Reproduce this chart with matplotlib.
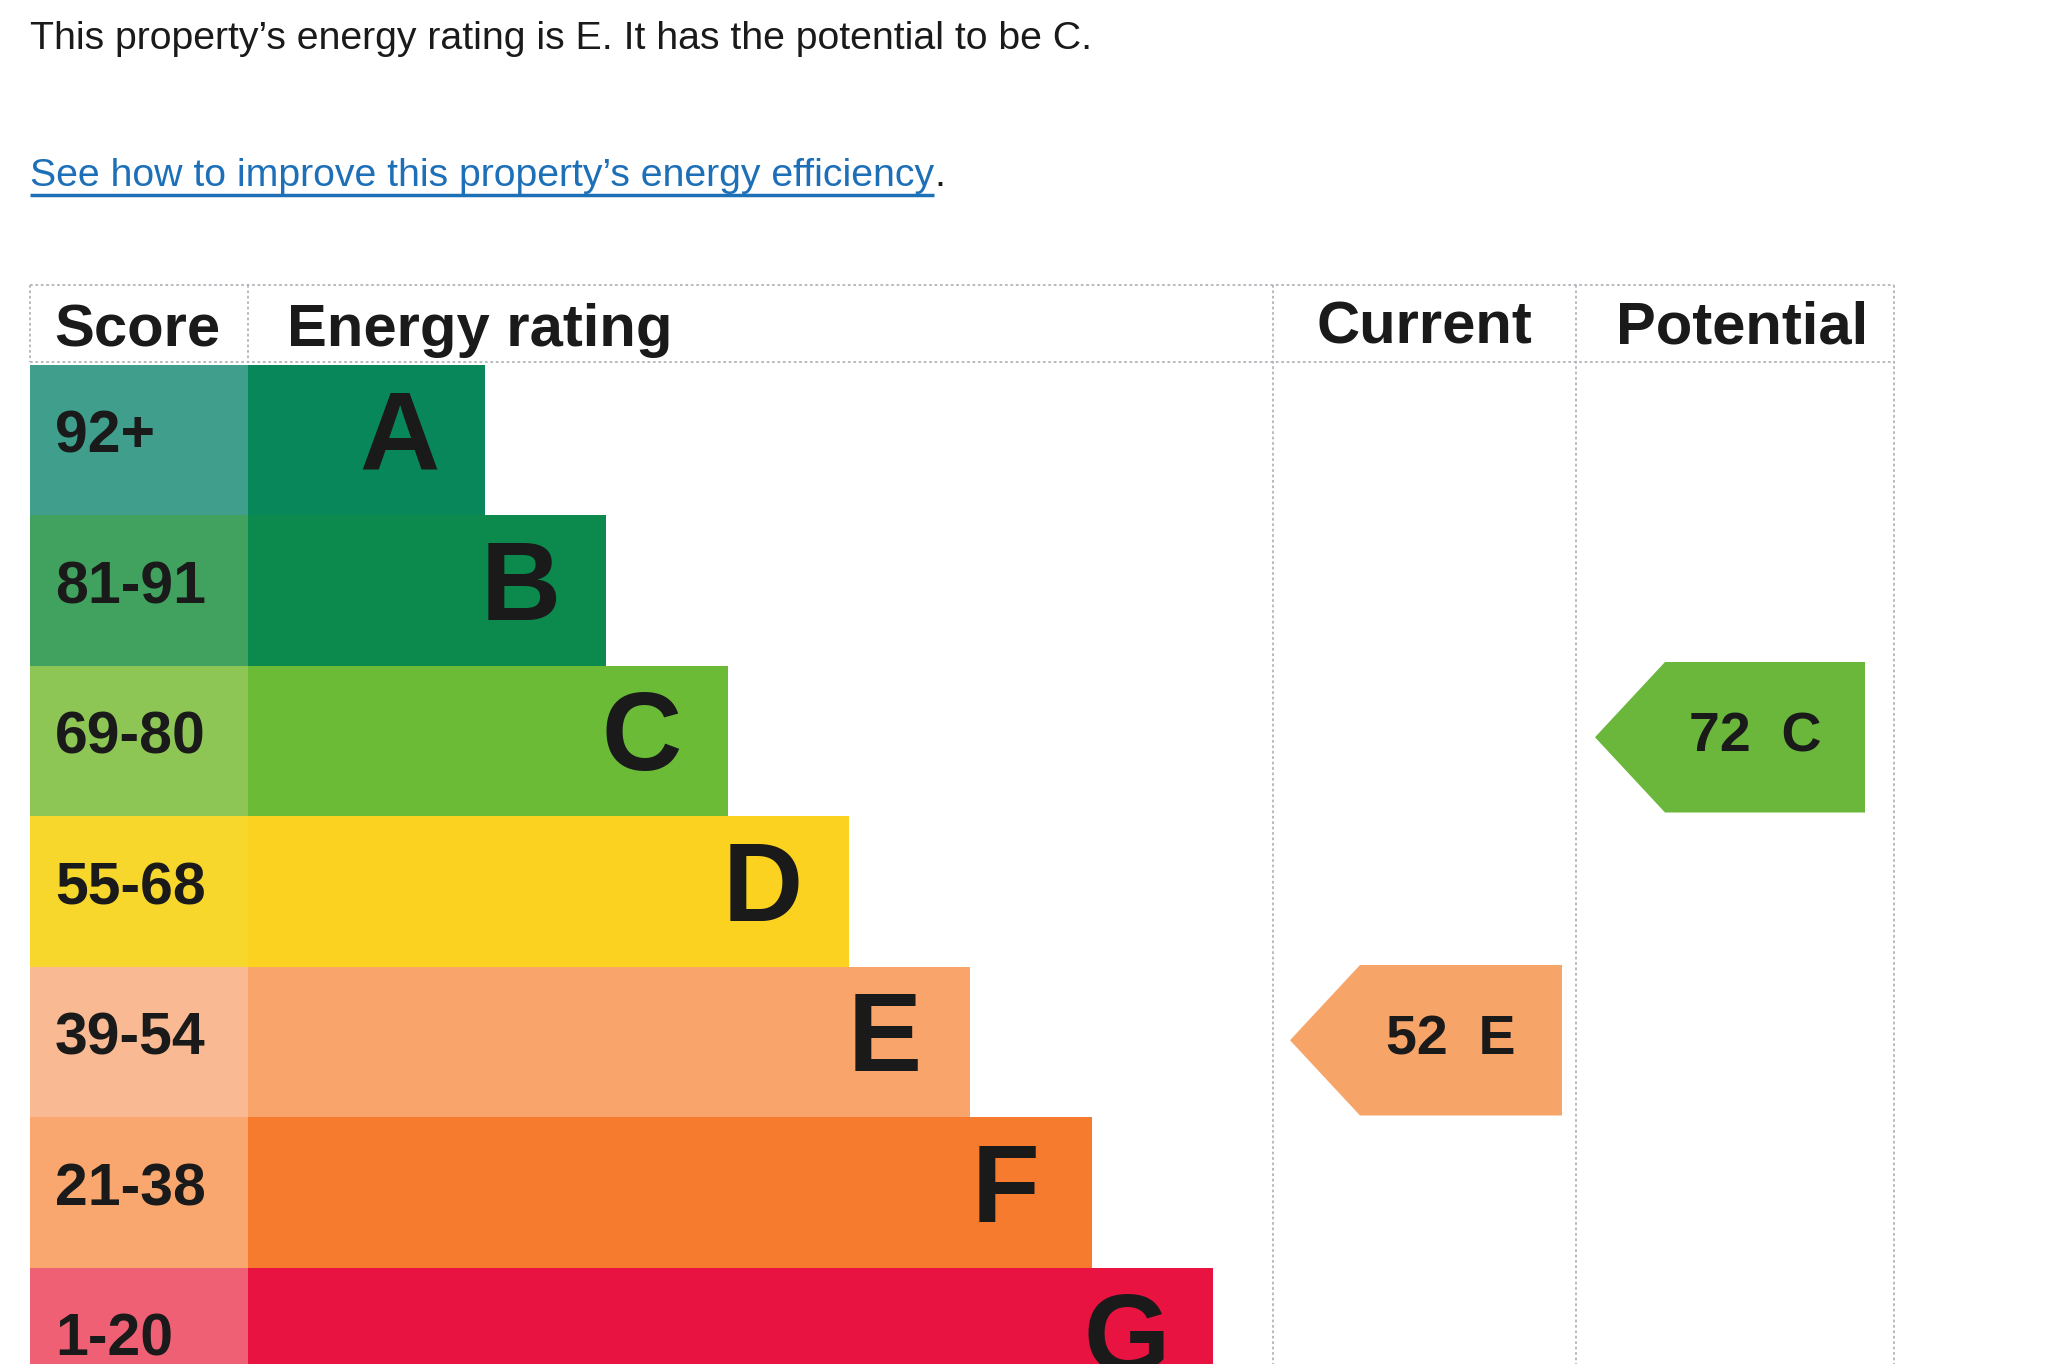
import matplotlib
matplotlib.use("Agg")
import matplotlib.pyplot as plt
from matplotlib.patches import Polygon

# ---- data ----
bands = ["A", "B", "C", "D", "E", "F", "G"]
score_ranges = ["92+", "81-91", "69-80", "55-68", "39-54", "21-38", "1-20"]
band_lower = [92, 81, 69, 55, 39, 21, 1]
current_score = 52
potential_score = 72
headers = ["Score", "Energy rating", "Current", "Potential"]
summary_text = "This property\u2019s energy rating is E. It has the potential to be C."
link_text = "See how to improve this property\u2019s energy efficiency"

# ---- styles ----
score_colors = ["#3f9f8c", "#40a25e", "#8dc655", "#f7d72c", "#f9b993", "#f9a76f", "#ef6075"]
bar_colors = ["#07875a", "#0c894c", "#6bbb37", "#fbd21f", "#f9a46b", "#f77b2e", "#e81341"]

W, H = 2048, 1364
fig = plt.figure(figsize=(W / 100, H / 100), dpi=100)
ax = fig.add_axes([0, 0, 1, 1])
ax.set_xlim(0, W)
ax.set_ylim(H, 0)
ax.axis("off")
fig.patch.set_facecolor("white")

FONT = "Liberation Sans"
TXT = "#1a1a1a"

# layout
x0, x_score = 30, 248
col_cur, col_pot, col_end = 1273, 1576, 1894
y_top, y_head = 285, 362
row_top0, row_h = 365, 150.5
bar_base, bar_step = 237, 121.3

def band_index(score):
    for i, lo in enumerate(band_lower):
        if score >= lo:
            return i
    return len(band_lower) - 1

# rows
for i, (b, sr) in enumerate(zip(bands, score_ranges)):
    top = row_top0 + i * row_h
    yc = top + row_h / 2
    ax.barh(yc, x_score - x0, left=x0, height=row_h + 0.5, color=score_colors[i], linewidth=0)
    length = bar_base + bar_step * i
    ax.barh(yc, length, left=x_score, height=row_h + 0.5, color=bar_colors[i], linewidth=0)
    ax.text(55, yc - 3, sr, fontsize=42.5, fontweight="bold", family=FONT, color=TXT,
            ha="left", va="center")
    ax.text(x_score + length - 86, yc, b, fontsize=80, fontweight="bold", family=FONT,
            color=TXT, ha="center", va="center")

# grid lines (dotted light gray)
lc = "#b4b4bc"
ls = (0, (1.5, 1.5))
ax.plot([x0, col_end], [y_top, y_top], color=lc, lw=1.3, ls=ls)
ax.plot([x0, col_end], [y_head, y_head], color=lc, lw=1.3, ls=ls)
ax.plot([x0, x0], [y_top, y_head], color=lc, lw=1.3, ls=ls)
ax.plot([x_score, x_score], [y_top, y_head], color=lc, lw=1.3, ls=ls)
for xv in (col_cur, col_pot, col_end):
    ax.plot([xv, xv], [y_top, H], color=lc, lw=1.3, ls=ls)

# headers
hy = 331
ax.text(54, hy, headers[0], fontsize=43, fontweight="bold", family=FONT, color=TXT, ha="left", va="center")
ax.text(287, hy, headers[1], fontsize=43, fontweight="bold", family=FONT, color=TXT, ha="left", va="center")
ax.text((col_cur + col_pot) / 2, hy - 3, headers[2], fontsize=43, fontweight="bold", family=FONT, color=TXT, ha="center", va="center")
ax.text((col_pot + col_end) / 2 + 7, hy - 3, headers[3], fontsize=43, fontweight="bold", family=FONT, color=TXT, ha="center", va="center")

# arrows
def draw_arrow(score, x_tip, x_right, color, dy):
    i = band_index(score)
    top = row_top0 + i * row_h + dy
    bot = top + row_h
    yc = (top + bot) / 2
    tip_len = 70
    poly = Polygon([(x_tip, yc), (x_tip + tip_len, top), (x_right, top),
                    (x_right, bot), (x_tip + tip_len, bot)], closed=True,
                   facecolor=color, edgecolor="none")
    ax.add_patch(poly)
    ax.text((x_tip + tip_len + x_right) / 2 - 10, yc, f"{score}  {bands[i]}", fontsize=40,
            fontweight="bold", family=FONT, color=TXT, ha="center", va="center")

draw_arrow(current_score, 1290, 1562, "#f6a468", -2)
draw_arrow(potential_score, 1595, 1865, "#6ab73b", -4)

# top texts
ax.text(30, 39, summary_text, fontsize=28.3, family=FONT, color=TXT, ha="left", va="center")
link_color = "#1d70b8"
t = ax.text(30, 176, link_text, fontsize=28.3, family=FONT, color=link_color, ha="left", va="center")
fig.canvas.draw()
bb = t.get_window_extent().transformed(ax.transData.inverted())
x_end = bb.x1
ax.plot([30, x_end], [195, 195], color=link_color, lw=2.5, solid_capstyle="butt")
ax.text(x_end, 176, ".", fontsize=28.3, family=FONT, color=TXT, ha="left", va="center")

fig.savefig("out.png", dpi=100, facecolor="white")
